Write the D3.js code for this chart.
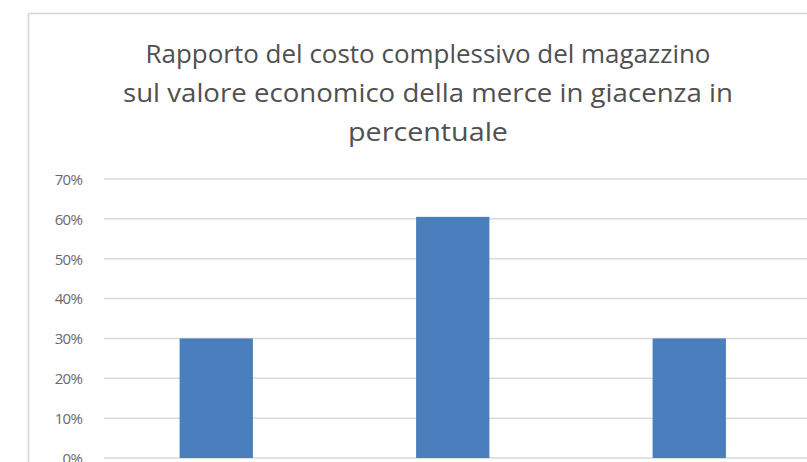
<!DOCTYPE html>
<html>
<head>
<meta charset="utf-8">
<script src="https://cdn.jsdelivr.net/npm/d3@7"></script>
<style>
  html, body { margin: 0; padding: 0; background: #fff; overflow: hidden; width: 807px; height: 462px; }
  svg { display: block; }
</style>
</head>
<body>
<svg id="chart" width="807" height="462"></svg>
<script>
// Chart data
const titleLines = [
  "Rapporto del costo complessivo del magazzino",
  "sul valore economico della merce in giacenza in",
  "percentuale"
];
const categories = ["A", "B", "C"];
const values = [0.30, 0.605, 0.30];
const yTicks = [0, 0.1, 0.2, 0.3, 0.4, 0.5, 0.6, 0.7];

const W = 807, H = 462;
const svg = d3.select("#chart");

svg.append("rect").attr("width", W).attr("height", H).attr("fill", "#fff");

// Chart frame: only the left and top edges fall inside the view
const frame = svg.append("g")
  .attr("stroke", "#d4d4d4").attr("stroke-width", 1.5).attr("fill", "none");
frame.append("line").attr("x1", 28.5).attr("x2", 28.5).attr("y1", 13.5).attr("y2", H);
frame.append("line").attr("x1", 28.5).attr("x2", W).attr("y1", 13.5).attr("y2", 13.5);

const plot = { left: 98, right: 807.5, top: 179, bottom: 458 };

const x = d3.scaleBand()
  .domain(categories)
  .range([plot.left, plot.right])
  .paddingInner(0.69)
  .paddingOuter(0.345);

const y = d3.scaleLinear()
  .domain([0, 0.7])
  .range([plot.bottom, plot.top]);

// Gridlines
const gridStart = 104;
svg.append("g")
  .selectAll("line")
  .data(yTicks)
  .join("line")
  .attr("x1", gridStart).attr("x2", W)
  .attr("y1", d => y(d)).attr("y2", d => y(d))
  .attr("stroke", "#d9d9d9").attr("stroke-width", 1.5);

// Y axis labels
const yAxis = d3.axisLeft(y)
  .tickValues(yTicks)
  .tickFormat(d3.format(".0%"))
  .tickSize(0)
  .tickPadding(0);
const yg = svg.append("g")
  .attr("transform", `translate(82,0)`)
  .call(yAxis);
yg.select(".domain").remove();
yg.selectAll("text")
  .attr("font-family", "'Open Sans', 'DejaVu Sans', sans-serif")
  .attr("font-size", 15)
  .attr("letter-spacing", -0.8)
  .attr("fill", "#6a6a6a")
  .attr("dy", "0.36em");

// Bars
svg.append("g")
  .selectAll("rect")
  .data(values)
  .join("rect")
  .attr("x", (d, i) => x(categories[i]))
  .attr("y", d => y(d))
  .attr("width", x.bandwidth())
  .attr("height", d => y(0) - y(d))
  .attr("fill", "#4b7ebc");

// Title, each line fitted to its width
const titleCenter = 428;
const baselines = [63, 102, 141];
const lineWidths = [565, 610, 160];
svg.append("g")
  .selectAll("text")
  .data(titleLines)
  .join("text")
  .attr("x", titleCenter)
  .attr("y", (d, i) => baselines[i])
  .attr("text-anchor", "middle")
  .attr("font-family", "'Open Sans', 'DejaVu Sans', sans-serif")
  .attr("font-size", 25)
  .attr("fill", "#505050")
  .attr("textLength", (d, i) => lineWidths[i])
  .attr("lengthAdjust", "spacingAndGlyphs")
  .text(d => d);
</script>
</body>
</html>
